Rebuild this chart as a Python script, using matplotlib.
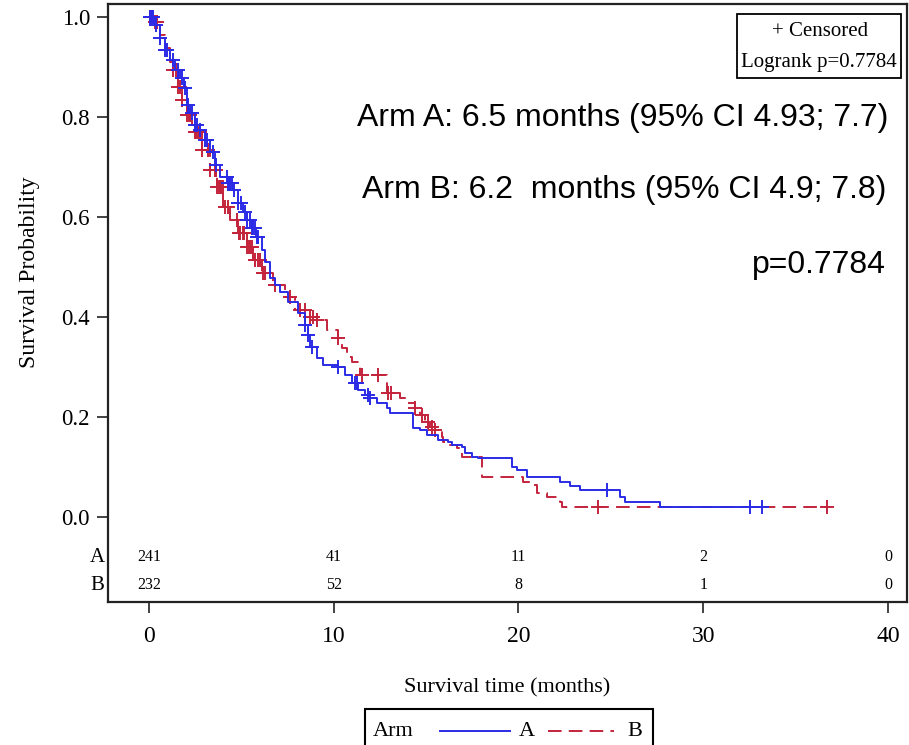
import numpy as np
import matplotlib
matplotlib.use("Agg")
import matplotlib.pyplot as plt
from matplotlib.patches import Rectangle
from matplotlib.lines import Line2D
from matplotlib.transforms import blended_transform_factory

plt.rcParams['font.family'] = ['Liberation Serif', 'DejaVu Serif']

# Kaplan-Meier step data: time (months) at each drop and survival after it
arm_a_times = [0.32, 0.60, 0.87, 1.14, 1.41, 1.68, 1.89, 2.06, 2.22, 2.49, 2.76, 3.03, 3.30,
               3.57, 3.84, 4.28, 4.55, 4.82, 5.09, 5.31, 5.58, 5.79, 6.12, 6.28, 6.55, 6.82,
               7.09, 7.53, 8.07, 8.45, 8.61, 8.72, 9.10, 9.42, 10.23, 10.61, 10.99, 11.32,
               11.69, 11.97, 12.34, 12.89, 13.05, 14.29, 14.67, 15.05, 15.65, 16.19, 16.40,
               16.95, 17.11, 17.49, 17.81, 19.65, 19.92, 20.47, 22.25, 22.79, 23.34, 25.50,
               25.77, 27.67]
arm_a_surv = [0.984, 0.958, 0.934, 0.914, 0.894, 0.878, 0.858, 0.824, 0.808, 0.784, 0.774,
              0.754, 0.730, 0.704, 0.680, 0.668, 0.654, 0.628, 0.610, 0.594, 0.578, 0.560,
              0.534, 0.510, 0.478, 0.464, 0.450, 0.430, 0.408, 0.384, 0.364, 0.340, 0.318,
              0.304, 0.300, 0.284, 0.268, 0.254, 0.244, 0.238, 0.228, 0.218, 0.208, 0.178,
              0.174, 0.164, 0.154, 0.150, 0.144, 0.140, 0.128, 0.120, 0.118, 0.100, 0.094,
              0.080, 0.070, 0.062, 0.054, 0.040, 0.030, 0.020]
arm_a_end = 33.19
arm_a_censored = [0.05, 0.15, 0.22, 0.40, 0.60, 0.87, 1.00, 1.30, 1.55, 1.79, 1.95, 2.11,
                  2.30, 2.49, 2.60, 2.76, 3.03, 3.15, 3.47, 3.60, 4.22, 4.28, 4.33, 4.39,
                  4.49, 4.60, 4.82, 5.00, 5.20, 5.31, 5.47, 5.58, 5.65, 5.74, 5.85, 5.90,
                  8.45, 8.61, 8.83, 10.23, 11.15, 11.26, 11.86, 11.97, 24.80, 32.54, 33.19]

arm_b_times = [0.32, 0.60, 0.87, 1.14, 1.30, 1.57, 1.79, 2.06, 2.33, 2.49, 2.87, 3.30, 3.68,
               4.01, 4.39, 4.82, 5.31, 5.63, 6.12, 6.71, 7.36, 7.90, 8.55, 9.10, 9.64, 10.23,
               10.45, 10.72, 10.99, 11.42, 12.89, 13.59, 13.97, 14.40, 14.67, 14.94, 15.21,
               15.48, 15.86, 15.92, 16.30, 16.68, 16.95, 18.03, 20.25, 20.79, 21.01, 21.55,
               22.25, 22.36]
arm_b_surv = [0.990, 0.964, 0.938, 0.910, 0.894, 0.860, 0.834, 0.804, 0.784, 0.770, 0.734,
              0.694, 0.660, 0.620, 0.594, 0.568, 0.540, 0.514, 0.488, 0.464, 0.440, 0.414,
              0.400, 0.394, 0.374, 0.358, 0.338, 0.320, 0.310, 0.284, 0.248, 0.238, 0.228,
              0.218, 0.204, 0.190, 0.180, 0.174, 0.160, 0.150, 0.144, 0.138, 0.120, 0.080,
              0.070, 0.064, 0.048, 0.040, 0.030, 0.020]
arm_b_end = 36.71
arm_b_censored = [0.05, 0.15, 0.32, 0.45, 1.30, 1.45, 1.57, 1.70, 1.79, 2.06, 2.15, 2.22,
                  2.49, 2.55, 2.65, 2.75, 2.87, 3.19, 3.30, 3.57, 3.62, 3.68, 3.79, 3.85,
                  3.90, 4.00, 4.11, 4.28, 4.76, 4.85, 4.93, 5.09, 5.15, 5.31, 5.40, 5.47,
                  5.60, 5.74, 5.90, 6.01, 6.15, 6.28, 6.82, 7.63, 8.18, 8.45, 8.72, 8.88,
                  9.10, 10.23, 11.53, 12.40, 12.94, 13.10, 14.40, 14.78, 15.11, 15.32,
                  15.48, 24.31, 36.71]

# Number at risk
risk_times = [0, 10, 20, 30, 40]
risk_a = [241, 41, 11, 2, 0]
risk_b = [232, 52, 8, 1, 0]

x_ticks = [0, 10, 20, 30, 40]
y_ticks = [0.0, 0.2, 0.4, 0.6, 0.8, 1.0]

BLUE = '#2b2be6'
RED = '#c3243c'

W, H = 909, 745
fig = plt.figure(figsize=(W / 100, H / 100), dpi=100)
ax = fig.add_axes([108 / W, 1 - 602 / H, (907 - 108) / W, (602 - 4) / H])
ax.set_xlim(-2.22, 41.03)
ax.set_ylim(-0.17, 1.026)


def km_curve(times, surv, end):
    t = np.concatenate([[0.0], times, [end]])
    s = np.concatenate([[1.0], surv, [surv[-1]]])
    return t, s


def surv_at(times, surv, q):
    t = np.concatenate([[0.0], times])
    s = np.concatenate([[1.0], surv])
    idx = np.searchsorted(t, q, side='right') - 1
    return s[idx]


ta, sa = km_curve(arm_a_times, arm_a_surv, arm_a_end)
tb, sb = km_curve(arm_b_times, arm_b_surv, arm_b_end)

ax.step(tb, sb, where='post', color=RED, lw=1.4, ls=(0, (7, 3.7)), zorder=3)
ax.step(ta, sa, where='post', color=BLUE, lw=1.4, zorder=4)

cb = np.array(arm_b_censored)
ca = np.array(arm_a_censored)
ax.plot(cb, surv_at(arm_b_times, arm_b_surv, cb), ls='none', marker='+',
        ms=10.5, mew=1.4, color=RED, zorder=3)
ax.plot(ca, surv_at(arm_a_times, arm_a_surv, ca), ls='none', marker='+',
        ms=10.5, mew=1.4, color=BLUE, zorder=4)

# Frame and ticks
for sp in ax.spines.values():
    sp.set_linewidth(1.6)
    sp.set_color('#222222')
ax.set_xticks(x_ticks)
ax.set_xticklabels([str(v) for v in x_ticks], fontsize=17)
ax.set_yticks(y_ticks)
ax.set_yticklabels([f'{v:.1f}' for v in y_ticks], fontsize=16.5)
ax.tick_params(axis='both', direction='out', length=8, width=1.2, color='#222222')
ax.tick_params(axis='x', pad=9)
ax.tick_params(axis='y', pad=5)

# Number-at-risk table inside the frame
for x, a, b in zip(risk_times, risk_a, risk_b):
    ax.text(x, -0.08, str(a), ha='center', va='center', fontsize=11.5)
    ax.text(x, -0.136, str(b), ha='center', va='center', fontsize=11.5)
row_tr = blended_transform_factory(fig.transFigure, ax.transData)
ax.text(97 / W, -0.08, 'A', ha='center', va='center', fontsize=15, transform=row_tr, clip_on=False)
ax.text(97 / W, -0.136, 'B', ha='center', va='center', fontsize=15, transform=row_tr, clip_on=False)

# Axis labels
fig.text(507 / W, 1 - 688 / H, 'Survival time (months)', ha='center', va='center', fontsize=16)
fig.text(30 / W, 1 - 272 / H, 'Survival Probability', ha='center', va='center',
         rotation=90, fontsize=17)

# Censored / log-rank box
fig.add_artist(Rectangle((737 / W, 1 - 78 / H), (901 - 737) / W, (78 - 14) / H,
                         transform=fig.transFigure, fill=False, lw=1.3, ec='black'))
fig.text(820 / W, 1 - 32 / H, '+ Censored', ha='center', va='center', fontsize=15)
fig.text(819 / W, 1 - 62 / H, 'Logrank p=0.7784', ha='center', va='center', fontsize=15)

# Median survival annotations
sans = ['Liberation Sans', 'DejaVu Sans']
fig.text(888 / W, 1 - 118 / H, 'Arm A: 6.5 months (95% CI 4.93; 7.7)', ha='right', va='center',
         fontsize=23, family=sans)
fig.text(886 / W, 1 - 190 / H, 'Arm B: 6.2  months (95% CI 4.9; 7.8)', ha='right', va='center',
         fontsize=23, family=sans)
fig.text(886 / W, 1 - 265 / H, 'p=0.7784', ha='right', va='center', fontsize=23, family=sans)

# Bottom legend
fig.add_artist(Rectangle((365 / W, -0.02), (653 - 365) / W, 0.02 + 1 - 709 / H,
                         transform=fig.transFigure, fill=False, lw=1.5, ec='black', clip_on=False))
ly = 1 - 731 / H
fig.text(393 / W, ly, 'Arm', ha='center', va='center', fontsize=16)
fig.add_artist(Line2D([440 / W, 510 / W], [ly, ly], transform=fig.transFigure, color=BLUE, lw=1.4))
fig.text(527 / W, ly, 'A', ha='center', va='center', fontsize=16)
fig.add_artist(Line2D([548 / W, 614 / W], [ly, ly], transform=fig.transFigure, color=RED, lw=1.4,
                      ls=(0, (7, 3.7))))
fig.text(635 / W, ly, 'B', ha='center', va='center', fontsize=16)

fig.savefig('out.png', dpi=100, facecolor='white')
